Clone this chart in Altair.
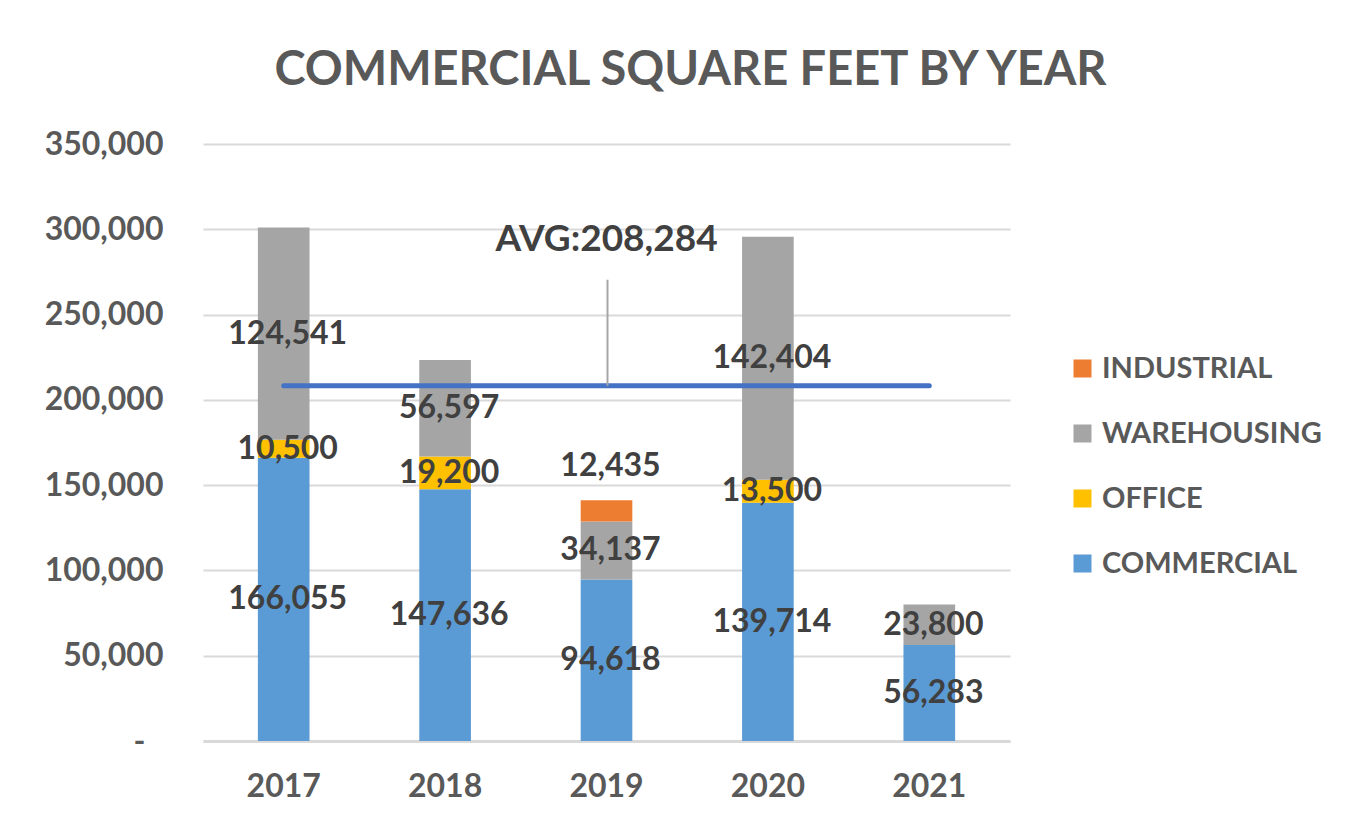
import altair as alt
import pandas as pd

# ---- data ----
years = ["2017", "2018", "2019", "2020", "2021"]
commercial = [166055, 147636, 94618, 139714, 56283]
office = [10500, 19200, 0, 13500, 0]
warehousing = [124541, 56597, 34137, 142404, 23800]
industrial = [0, 0, 12435, 0, 0]

stack_categories = ["COMMERCIAL", "OFFICE", "WAREHOUSING", "INDUSTRIAL"]
legend_order = ["INDUSTRIAL", "WAREHOUSING", "OFFICE", "COMMERCIAL"]
legend_colors = ["#ED7D31", "#A5A5A5", "#FFC000", "#5B9BD5"]
y_ticks = [0, 50000, 100000, 150000, 200000, 250000, 300000, 350000]

rows = []
series = [commercial, office, warehousing, industrial]
for i, yr in enumerate(years):
    for rank, (cat, vals) in enumerate(zip(stack_categories, series)):
        rows.append({"year": yr, "category": cat, "rank": rank, "value": vals[i]})
df = pd.DataFrame(rows)

totals = [sum(v) for v in zip(*series)]
avg = round(sum(totals) / len(totals))
avg_df = pd.DataFrame({"year": years, "avg": [avg] * len(years)})

FONT = "Lato"
LABEL_COLOR = "#404040"
AXIS_COLOR = "#595959"

xscale = alt.Scale(domain=years, paddingInner=0.68, paddingOuter=0.34)
yscale = alt.Scale(domain=[0, 350000], nice=False)

x_enc = alt.X(
    "year:N",
    scale=xscale,
    title=None,
    axis=alt.Axis(
        labelAngle=0, labelFont=FONT, labelFontSize=32, labelFontWeight="bold",
        labelColor=AXIS_COLOR, labelPadding=30, ticks=False, domain=True,
        domainColor="#D9D9D9", domainWidth=3, grid=False,
    ),
)

base = (
    alt.Chart(df)
    .transform_filter("datum.value > 0")
    .transform_stack(
        stack="value", groupby=["year"], as_=["y0", "y1"],
        sort=[alt.SortField("rank", order="ascending")],
    )
    .transform_calculate(mid="(datum.y0 + datum.y1) / 2")
)

bars = base.mark_bar().encode(
    x=x_enc,
    y=alt.Y(
        "y1:Q", scale=yscale, title=None,
        axis=alt.Axis(
            values=y_ticks,
            labelExpr="datum.value == 0 ? '-' : format(datum.value, ',')",
            labelFont=FONT, labelFontSize=32, labelFontWeight="bold",
            labelColor=AXIS_COLOR,
            labelPadding={"condition": {"test": "datum.value == 0", "value": 58}, "value": 40},
            ticks=False, domain=False,
            gridColor="#D9D9D9", gridWidth=2,
        ),
    ),
    y2="y0:Q",
    color=alt.Color(
        "category:N",
        scale=alt.Scale(domain=legend_order, range=legend_colors),
        legend=alt.Legend(
            title=None, orient="none", legendX=865, legendY=210,
            symbolType="square", symbolSize=324, symbolStrokeWidth=0,
            labelFont=FONT, labelFontSize=29, labelFontWeight="bold",
            labelColor=AXIS_COLOR, labelOffset=5, labelLimit=400,
            rowPadding=35, padding=0,
        ),
    ),
)

labels = base.transform_filter("datum.category != 'INDUSTRIAL'").mark_text(
    font=FONT, fontSize=32, fontWeight="bold", color=LABEL_COLOR, dx=4
).encode(x=alt.X("year:N", scale=xscale), y=alt.Y("mid:Q", scale=yscale),
         text=alt.Text("value:Q", format=","))

top_labels = base.transform_filter("datum.category == 'INDUSTRIAL'").mark_text(
    font=FONT, fontSize=32, fontWeight="bold", color=LABEL_COLOR, dx=4, dy=-34
).encode(x=alt.X("year:N", scale=xscale), y=alt.Y("y1:Q", scale=yscale),
         text=alt.Text("value:Q", format=","))

avg_line = alt.Chart(avg_df).mark_line(
    color="#4472C4", strokeWidth=5, strokeCap="round"
).encode(x=alt.X("year:N", scale=xscale), y=alt.Y("avg:Q", scale=yscale))

avg_leader = alt.Chart(avg_df).transform_filter("datum.year == '2019'").mark_rule(
    color="#A6A6A6", strokeWidth=2, y2Offset=-106, xOffset=1
).encode(x=alt.X("year:N", scale=xscale), y=alt.Y("avg:Q", scale=yscale), y2="avg:Q")

avg_text = alt.Chart(avg_df).transform_filter("datum.year == '2019'").transform_calculate(
    label="'AVG:' + format(datum.avg, ',')"
).mark_text(
    font=FONT, fontSize=37, fontWeight="bold", color=LABEL_COLOR, dy=-146
).encode(x=alt.X("year:N", scale=xscale), y=alt.Y("avg:Q", scale=yscale), text="label:N")

chart = (
    alt.layer(bars, avg_line, avg_leader, avg_text, labels, top_labels)
    .properties(
        width=807, height=597,
        autosize=alt.AutoSizeParams(type="none"),
        padding={"left": 195, "top": 136, "right": 340, "bottom": 72},
        background="white",
        title=alt.TitleParams(
            "COMMERCIAL SQUARE FEET BY YEAR", font=FONT, fontSize=47,
            fontWeight="bold", color=AXIS_COLOR, anchor="middle", dx=84, offset=33,
        ),
    )
    .configure_view(stroke=None)
)

chart.save("out.html", embed_options={"renderer": "svg", "actions": False})
